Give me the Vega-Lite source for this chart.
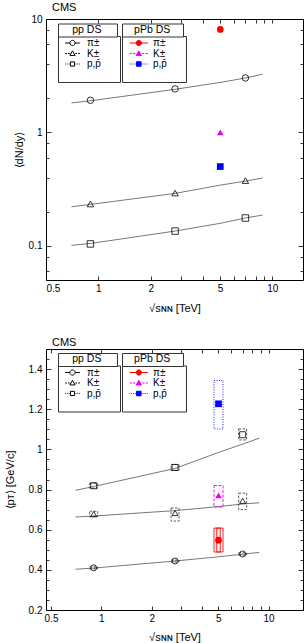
{
  "$schema": "https://vega.github.io/schema/vega-lite/v6.json",
  "padding": {"left": 3, "top": 1, "right": 0, "bottom": 0},
  "spacing": 22,
  "datasets": {
    "fitTop": [
      {"sp": "π±", "x": 0.7, "y": 1.82}, {"sp": "π±", "x": 0.9, "y": 1.9}, {"sp": "π±", "x": 2.76, "y": 2.4},
      {"sp": "π±", "x": 5.02, "y": 2.76}, {"sp": "π±", "x": 7, "y": 3.02}, {"sp": "π±", "x": 8.8, "y": 3.26},
      {"sp": "K±", "x": 0.7, "y": 0.221}, {"sp": "K±", "x": 0.9, "y": 0.232}, {"sp": "K±", "x": 2.76, "y": 0.29},
      {"sp": "K±", "x": 5.02, "y": 0.343}, {"sp": "K±", "x": 7, "y": 0.372}, {"sp": "K±", "x": 8.8, "y": 0.397},
      {"sp": "p,p̄", "x": 0.7, "y": 0.101}, {"sp": "p,p̄", "x": 0.9, "y": 0.105}, {"sp": "p,p̄", "x": 2.76, "y": 0.135},
      {"sp": "p,p̄", "x": 5.02, "y": 0.158}, {"sp": "p,p̄", "x": 7, "y": 0.176}, {"sp": "p,p̄", "x": 8.8, "y": 0.187}
    ],
    "ppTop": [
      {"sp": "π±", "x": 0.9, "y": 1.92}, {"sp": "π±", "x": 2.76, "y": 2.42}, {"sp": "π±", "x": 7, "y": 3.02},
      {"sp": "K±", "x": 0.9, "y": 0.234}, {"sp": "K±", "x": 2.76, "y": 0.292}, {"sp": "K±", "x": 7, "y": 0.376},
      {"sp": "p,p̄", "x": 0.9, "y": 0.104}, {"sp": "p,p̄", "x": 2.76, "y": 0.135}, {"sp": "p,p̄", "x": 7, "y": 0.176}
    ],
    "pPbTop": [
      {"sp": "π±", "x": 5.02, "y": 8.1}, {"sp": "K±", "x": 5.02, "y": 1.0}, {"sp": "p,p̄", "x": 5.02, "y": 0.5}
    ],
    "fitBot": [
      {"sp": "π±", "x": 0.7, "y": 0.403}, {"sp": "π±", "x": 0.9, "y": 0.409}, {"sp": "π±", "x": 2.76, "y": 0.444},
      {"sp": "π±", "x": 5.02, "y": 0.465}, {"sp": "π±", "x": 7, "y": 0.478}, {"sp": "π±", "x": 8.8, "y": 0.487},
      {"sp": "K±", "x": 0.7, "y": 0.663}, {"sp": "K±", "x": 0.9, "y": 0.668}, {"sp": "K±", "x": 2.76, "y": 0.695},
      {"sp": "K±", "x": 5.02, "y": 0.715}, {"sp": "K±", "x": 7, "y": 0.728}, {"sp": "K±", "x": 8.8, "y": 0.734},
      {"sp": "p,p̄", "x": 0.7, "y": 0.796}, {"sp": "p,p̄", "x": 0.9, "y": 0.815}, {"sp": "p,p̄", "x": 2.76, "y": 0.905},
      {"sp": "p,p̄", "x": 5.02, "y": 0.985}, {"sp": "p,p̄", "x": 7, "y": 1.026}, {"sp": "p,p̄", "x": 8.8, "y": 1.056}
    ],
    "ppBot": [
      {"sp": "π±", "x": 0.9, "y": 0.41, "lo": 0.405, "hi": 0.415},
      {"sp": "π±", "x": 2.76, "y": 0.444, "lo": 0.439, "hi": 0.449},
      {"sp": "π±", "x": 7, "y": 0.479, "lo": 0.473, "hi": 0.485},
      {"sp": "K±", "x": 0.9, "y": 0.678, "lo": 0.664, "hi": 0.692},
      {"sp": "K±", "x": 2.76, "y": 0.683, "lo": 0.643, "hi": 0.708},
      {"sp": "K±", "x": 7, "y": 0.744, "lo": 0.7, "hi": 0.782},
      {"sp": "p,p̄", "x": 0.9, "y": 0.819, "lo": 0.807, "hi": 0.831},
      {"sp": "p,p̄", "x": 2.76, "y": 0.91, "lo": 0.895, "hi": 0.925},
      {"sp": "p,p̄", "x": 7, "y": 1.073, "lo": 1.047, "hi": 1.102}
    ],
    "pPbBot": [
      {"sp": "π±", "x": 5.02, "y": 0.548, "lo": 0.489, "hi": 0.608},
      {"sp": "K±", "x": 5.02, "y": 0.771, "lo": 0.713, "hi": 0.82},
      {"sp": "p,p̄", "x": 5.02, "y": 1.227, "lo": 1.102, "hi": 1.343}
    ]
  },
  "vconcat": [
    {
      "width": 257,
      "height": 261,
      "title": {"text": "CMS"},
      "resolve": {"scale": {"shape": "independent", "fill": "independent", "stroke": "independent", "color": "independent", "strokeDash": "independent"}},
      "layer": [
        {
          "data": {"name": "fitTop"},
          "mark": {"type": "line", "color": "#555", "strokeWidth": 0.8},
          "encoding": {
            "x": {"field": "x", "type": "quantitative", "scale": {"type": "log", "domain": [0.5, 15], "nice": false},
              "axis": {"orient": "bottom", "title": "√sɴɴ [TeV]", "values": [0.5, 1, 2, 3, 4, 5, 6, 7, 8, 9, 10], "tickSize": -4, "labelPadding": 7,
                "minExtent": 13, "maxExtent": 13, "titlePadding": 9,
                "labelExpr": "indexof([0.5, 1, 2, 5, 10], datum.value) >= 0 ? format(datum.value, '~g') : ''"}},
            "y": {"field": "y", "type": "quantitative", "scale": {"type": "log", "domain": [0.05, 10], "nice": false},
              "axis": {"orient": "left", "title": "⟨dN/dy⟩", "values": [0.06, 0.08, 0.1, 0.2, 0.4, 0.6, 0.8, 1, 2, 4, 6, 8, 10],
                "tickSize": {"condition": {"test": "indexof([0.1, 1, 10], datum.value) >= 0", "value": -5}, "value": -3}, "labelPadding": 9,
                "minExtent": 18, "maxExtent": 18, "titlePadding": 4,
                "labelExpr": "indexof([0.1, 1, 10], datum.value) >= 0 ? format(datum.value, '~g') : ''"}},
            "detail": {"field": "sp"}
          }
        },
        {
          "data": {"name": "ppTop"},
          "mark": {"type": "point", "filled": false, "color": "black", "strokeWidth": 0.8, "size": 42, "opacity": 1},
          "encoding": {
            "x": {"field": "x", "type": "quantitative",
              "axis": {"orient": "top", "title": null, "values": [0.5, 1, 2, 3, 4, 5, 6, 7, 8, 9, 10], "tickSize": -4, "labels": false, "minExtent": 0, "maxExtent": 0}},
            "y": {"field": "y", "type": "quantitative",
              "axis": {"orient": "right", "title": null, "values": [0.06, 0.08, 0.1, 0.2, 0.4, 0.6, 0.8, 1, 2, 4, 6, 8, 10],
                "tickSize": {"condition": {"test": "indexof([0.1, 1, 10], datum.value) >= 0", "value": -5}, "value": -3}, "labels": false, "minExtent": 0, "maxExtent": 0}},
            "shape": {"field": "sp", "type": "nominal", "legend": null,
              "scale": {"domain": ["π±", "K±", "p,p̄"], "range": ["circle", "triangle-up", "square"]}}
          }
        },
        {
          "data": {"name": "pPbTop"},
          "mark": {"type": "point", "filled": true, "size": 45, "opacity": 1},
          "encoding": {
            "x": {"field": "x", "type": "quantitative", "axis": null},
            "y": {"field": "y", "type": "quantitative", "axis": null},
            "color": {"field": "sp", "type": "nominal", "legend": null,
              "scale": {"domain": ["π±", "K±", "p,p̄"], "range": ["#ff0000", "#ee00ee", "#0000ff"]}},
            "shape": {"field": "sp", "type": "nominal", "legend": null,
              "scale": {"domain": ["π±", "K±", "p,p̄"], "range": ["circle", "triangle-up", "square"]}}
          }
        },
        {
          "data": {"name": "ppTop"},
          "transform": [{"filter": "false"}],
          "mark": {"type": "point", "filled": false, "color": "black", "strokeWidth": 1, "opacity": 1},
          "encoding": {
            "shape": {"field": "sp", "type": "nominal",
              "scale": {"domain": ["π±", "K±", "p,p̄", " "], "range": [
                "M-2.1,0H-0.75M0.75,0H2.1M-0.75,0A0.75,0.75 0 1,0 0.75,0A0.75,0.75 0 1,0 -0.75,0Z",
                "M-2.1,0H-1.6M-1.3,0H-0.8M0.8,0H1.3M1.6,0H2.1M0,-0.75L0.75,0.55L-0.75,0.55Z",
                "M-2.1,0H-1.9M-1.6,0H-1.4M-1.1,0H-0.9M0.9,0H1.1M1.4,0H1.6M1.9,0H2.1M-0.6,-0.6H0.6V0.6H-0.6Z",
                "M0,0"]},
              "legend": {"title": null, "orient": "none", "legendX": 12, "legendY": 17, "padding": 2,
                "symbolOffset": 7.5, "labelOffset": 9.5, "rowPadding": 0.5,
                "labelExpr": "datum.label + '\u00a0\u00a0\u00a0\u00a0\u00a0\u00a0\u200b'"}},
            "strokeDash": {"field": "sp", "type": "nominal",
              "scale": {"domain": ["pp DS"], "range": [[1, 0]]},
              "legend": {"title": null, "orient": "none", "legendX": 12, "legendY": 4.5, "padding": 1,
                "symbolSize": 0.01, "symbolOpacity": 0, "symbolOffset": 0, "labelOffset": 2.7, "labelFontSize": 10.5,
                "labelExpr": "datum.label + '\u00a0\u00a0\u00a0\u00a0\u00a0\u200b'"}}
          }
        },
        {
          "data": {"name": "pPbTop"},
          "transform": [{"filter": "false"}],
          "mark": {"type": "point", "filled": true, "strokeWidth": 1, "opacity": 1},
          "encoding": {
            "fill": {"field": "sp", "type": "nominal",
              "scale": {"domain": ["π±", "K±", "p,p̄", " "], "range": ["#ff0000", "#ee00ee", "#0000ff", "white"]},
              "legend": {"title": null, "orient": "none", "legendX": 76, "legendY": 17}},
            "stroke": {"field": "sp", "type": "nominal",
              "scale": {"domain": ["π±", "K±", "p,p̄", " "], "range": ["#ff0000", "#ee00ee", "#0000ff", "white"]},
              "legend": {"title": null, "orient": "none", "legendX": 76, "legendY": 17}},
            "shape": {"field": "sp", "type": "nominal",
              "scale": {"domain": ["π±", "K±", "p,p̄", " "], "range": [
                "M-2.6,0H2.6M-0.75,0A0.75,0.75 0 1,0 0.75,0A0.75,0.75 0 1,0 -0.75,0Z",
                "M-2.6,0H-2M-1.6,0H-1M1,0H1.6M2,0H2.6M0,-0.75L0.75,0.55L-0.75,0.55Z",
                "M-2.6,0H-2.4M-2.1,0H-1.9M-1.6,0H-1.4M-1.1,0H-0.9M0.9,0H1.1M1.4,0H1.6M1.9,0H2.1M2.4,0H2.6M-0.65,-0.65H0.65V0.65H-0.65Z",
                "M0,0"]},
              "legend": {"title": null, "orient": "none", "legendX": 76, "legendY": 17, "padding": 2,
                "symbolOffset": 9.8, "labelOffset": 9.2, "rowPadding": 0.5,
                "labelExpr": "datum.label + '\u00a0\u00a0\u00a0\u00a0\u00a0\u00a0\u200b'"}},
            "strokeDash": {"field": "sp", "type": "nominal",
              "scale": {"domain": ["pPb DS"], "range": [[1, 0]]},
              "legend": {"title": null, "orient": "none", "legendX": 76, "legendY": 4.5, "padding": 1,
                "symbolSize": 0.01, "symbolOpacity": 0, "symbolOffset": 0, "labelOffset": 0.6, "labelFontSize": 10.5,
                "labelExpr": "datum.label + '\u00a0\u00a0\u00a0\u00a0\u200b'"}}
          }
        }
      ]
    },
    {
      "width": 257,
      "height": 261,
      "title": {"text": "CMS"},
      "resolve": {"scale": {"shape": "independent", "fill": "independent", "stroke": "independent", "color": "independent", "strokeDash": "independent"}},
      "layer": [
        {
          "data": {"name": "fitBot"},
          "mark": {"type": "line", "color": "#555", "strokeWidth": 0.8},
          "encoding": {
            "x": {"field": "x", "type": "quantitative", "scale": {"type": "log", "domain": [0.5, 15], "nice": false},
              "axis": {"orient": "bottom", "title": "√sɴɴ [TeV]", "values": [0.5, 1, 2, 3, 4, 5, 6, 7, 8, 9, 10], "tickSize": -4, "labelPadding": 7,
                "minExtent": 13, "maxExtent": 13, "titlePadding": 8,
                "labelExpr": "indexof([0.5, 1, 2, 5, 10], datum.value) >= 0 ? format(datum.value, '~g') : ''"}},
            "y": {"field": "y", "type": "quantitative", "scale": {"domain": [0.2, 1.5], "nice": false, "zero": false},
              "axis": {"orient": "left", "title": "⟨pᴛ⟩ [GeV/c]",
                "values": [0.2, 0.25, 0.3, 0.35, 0.4, 0.45, 0.5, 0.55, 0.6, 0.65, 0.7, 0.75, 0.8, 0.85, 0.9, 0.95, 1, 1.05, 1.1, 1.15, 1.2, 1.25, 1.3, 1.35, 1.4, 1.45],
                "tickSize": {"condition": {"test": "indexof([0.2, 0.4, 0.6, 0.8, 1, 1.2, 1.4], datum.value) >= 0", "value": -5}, "value": -3}, "labelPadding": 9,
                "minExtent": 18, "maxExtent": 18, "titlePadding": 13,
                "labelExpr": "indexof([0.2, 0.4, 0.6, 0.8, 1, 1.2, 1.4], datum.value) >= 0 ? format(datum.value, '~g') : ''"}},
            "detail": {"field": "sp"}
          }
        },
        {
          "data": {"name": "ppBot"},
          "mark": {"type": "bar", "width": 8, "fill": "white", "fillOpacity": 0, "stroke": "#333", "strokeWidth": 0.8, "strokeDash": [2.5, 1.5]},
          "encoding": {
            "x": {"field": "x", "type": "quantitative",
              "axis": {"orient": "top", "title": null, "values": [0.5, 1, 2, 3, 4, 5, 6, 7, 8, 9, 10], "tickSize": -4, "labels": false, "minExtent": 0, "maxExtent": 0}},
            "y": {"field": "lo", "type": "quantitative",
              "axis": {"orient": "right", "title": null,
                "values": [0.2, 0.25, 0.3, 0.35, 0.4, 0.45, 0.5, 0.55, 0.6, 0.65, 0.7, 0.75, 0.8, 0.85, 0.9, 0.95, 1, 1.05, 1.1, 1.15, 1.2, 1.25, 1.3, 1.35, 1.4, 1.45],
                "tickSize": {"condition": {"test": "indexof([0.2, 0.4, 0.6, 0.8, 1, 1.2, 1.4], datum.value) >= 0", "value": -5}, "value": -3},
                "labels": false, "minExtent": 0, "maxExtent": 0}},
            "y2": {"field": "hi"}
          }
        },
        {
          "data": {"name": "pPbBot"},
          "mark": {"type": "bar", "width": 9, "fill": "white", "fillOpacity": 0, "strokeWidth": 0.9},
          "encoding": {
            "x": {"field": "x", "type": "quantitative", "axis": null},
            "y": {"field": "lo", "type": "quantitative", "axis": null},
            "y2": {"field": "hi"},
            "stroke": {"field": "sp", "type": "nominal", "legend": null,
              "scale": {"domain": ["π±", "K±", "p,p̄"], "range": ["#ff0000", "#ee00ee", "#0000ff"]}},
            "strokeDash": {"field": "sp", "type": "nominal", "legend": null,
              "scale": {"domain": ["π±", "K±", "p,p̄"], "range": [[1, 0], [3, 1.5], [1, 1.5]]}}
          }
        },
        {
          "data": {"name": "pPbBot"},
          "transform": [{"filter": "datum.sp == 'π±'"}],
          "mark": {"type": "bar", "width": 3.4, "fill": "white", "fillOpacity": 0, "stroke": "#ff0000", "strokeWidth": 0.9},
          "encoding": {
            "x": {"field": "x", "type": "quantitative", "axis": null},
            "y": {"field": "lo", "type": "quantitative", "axis": null},
            "y2": {"field": "hi"}
          }
        },
        {
          "data": {"name": "ppBot"},
          "mark": {"type": "point", "filled": false, "color": "black", "strokeWidth": 0.8, "size": 36, "opacity": 1},
          "encoding": {
            "x": {"field": "x", "type": "quantitative", "axis": null},
            "y": {"field": "y", "type": "quantitative", "axis": null},
            "shape": {"field": "sp", "type": "nominal", "legend": null,
              "scale": {"domain": ["π±", "K±", "p,p̄"], "range": ["circle", "triangle-up", "square"]}}
          }
        },
        {
          "data": {"name": "pPbBot"},
          "mark": {"type": "point", "filled": true, "size": 45, "opacity": 1},
          "encoding": {
            "x": {"field": "x", "type": "quantitative", "axis": null},
            "y": {"field": "y", "type": "quantitative", "axis": null},
            "color": {"field": "sp", "type": "nominal", "legend": null,
              "scale": {"domain": ["π±", "K±", "p,p̄"], "range": ["#ff0000", "#ee00ee", "#0000ff"]}},
            "shape": {"field": "sp", "type": "nominal", "legend": null,
              "scale": {"domain": ["π±", "K±", "p,p̄"], "range": ["circle", "triangle-up", "square"]}}
          }
        },
        {
          "data": {"name": "ppBot"},
          "transform": [{"filter": "false"}],
          "mark": {"type": "point", "filled": false, "color": "black", "strokeWidth": 1, "opacity": 1},
          "encoding": {
            "shape": {"field": "sp", "type": "nominal",
              "scale": {"domain": ["π±", "K±", "p,p̄", " "], "range": [
                "M-2.1,0H-0.75M0.75,0H2.1M-0.75,0A0.75,0.75 0 1,0 0.75,0A0.75,0.75 0 1,0 -0.75,0Z",
                "M-2.1,0H-1.6M-1.3,0H-0.8M0.8,0H1.3M1.6,0H2.1M0,-0.75L0.75,0.55L-0.75,0.55Z",
                "M-2.1,0H-1.9M-1.6,0H-1.4M-1.1,0H-0.9M0.9,0H1.1M1.4,0H1.6M1.9,0H2.1M-0.6,-0.6H0.6V0.6H-0.6Z",
                "M0,0"]},
              "legend": {"title": null, "orient": "none", "legendX": 12, "legendY": 16.5, "padding": 2,
                "symbolOffset": 7.5, "labelOffset": 9.5, "rowPadding": 0.5,
                "labelExpr": "datum.label + '\u00a0\u00a0\u00a0\u00a0\u00a0\u00a0\u200b'"}},
            "strokeDash": {"field": "sp", "type": "nominal",
              "scale": {"domain": ["pp DS"], "range": [[1, 0]]},
              "legend": {"title": null, "orient": "none", "legendX": 12, "legendY": 4, "padding": 1,
                "symbolSize": 0.01, "symbolOpacity": 0, "symbolOffset": 0, "labelOffset": 2.7, "labelFontSize": 10.5,
                "labelExpr": "datum.label + '\u00a0\u00a0\u00a0\u00a0\u00a0\u200b'"}}
          }
        },
        {
          "data": {"name": "pPbBot"},
          "transform": [{"filter": "false"}],
          "mark": {"type": "point", "filled": true, "strokeWidth": 1, "opacity": 1},
          "encoding": {
            "fill": {"field": "sp", "type": "nominal",
              "scale": {"domain": ["π±", "K±", "p,p̄", " "], "range": ["#ff0000", "#ee00ee", "#0000ff", "white"]},
              "legend": {"title": null, "orient": "none", "legendX": 76, "legendY": 16.5}},
            "stroke": {"field": "sp", "type": "nominal",
              "scale": {"domain": ["π±", "K±", "p,p̄", " "], "range": ["#ff0000", "#ee00ee", "#0000ff", "white"]},
              "legend": {"title": null, "orient": "none", "legendX": 76, "legendY": 16.5}},
            "shape": {"field": "sp", "type": "nominal",
              "scale": {"domain": ["π±", "K±", "p,p̄", " "], "range": [
                "M-2.6,0H2.6M-0.75,0A0.75,0.75 0 1,0 0.75,0A0.75,0.75 0 1,0 -0.75,0Z",
                "M-2.6,0H-2M-1.6,0H-1M1,0H1.6M2,0H2.6M0,-0.75L0.75,0.55L-0.75,0.55Z",
                "M-2.6,0H-2.4M-2.1,0H-1.9M-1.6,0H-1.4M-1.1,0H-0.9M0.9,0H1.1M1.4,0H1.6M1.9,0H2.1M2.4,0H2.6M-0.65,-0.65H0.65V0.65H-0.65Z",
                "M0,0"]},
              "legend": {"title": null, "orient": "none", "legendX": 76, "legendY": 16.5, "padding": 2,
                "symbolOffset": 9.8, "labelOffset": 9.2, "rowPadding": 0.5,
                "labelExpr": "datum.label + '\u00a0\u00a0\u00a0\u00a0\u00a0\u00a0\u200b'"}},
            "strokeDash": {"field": "sp", "type": "nominal",
              "scale": {"domain": ["pPb DS"], "range": [[1, 0]]},
              "legend": {"title": null, "orient": "none", "legendX": 76, "legendY": 4, "padding": 1,
                "symbolSize": 0.01, "symbolOpacity": 0, "symbolOffset": 0, "labelOffset": 0.6, "labelFontSize": 10.5,
                "labelExpr": "datum.label + '\u00a0\u00a0\u00a0\u00a0\u200b'"}}
          }
        }
      ]
    }
  ],
  "config": {
    "font": "Liberation Sans",
    "view": {"stroke": "black", "strokeWidth": 1},
    "axis": {
      "domain": false, "grid": false,
      "labelFont": "Liberation Sans", "labelFontSize": 10, "labelColor": "black", "labelPadding": 4,
      "tickColor": "black", "tickWidth": 0.8,
      "titleFont": "Liberation Sans", "titleFontSize": 11, "titleFontWeight": "normal", "titleColor": "black"
    },
    "legend": {
      "strokeColor": "#333", "fillColor": "white", "padding": 2,
      "labelFont": "Liberation Sans", "labelFontSize": 10, "labelColor": "black",
      "symbolSize": 49, "symbolStrokeWidth": 1
    },
    "title": {"anchor": "start", "frame": "group", "font": "Liberation Sans", "fontSize": 11, "fontWeight": "normal", "color": "black", "dx": 6, "offset": 1, "baseline": "alphabetic"}
  }
}
